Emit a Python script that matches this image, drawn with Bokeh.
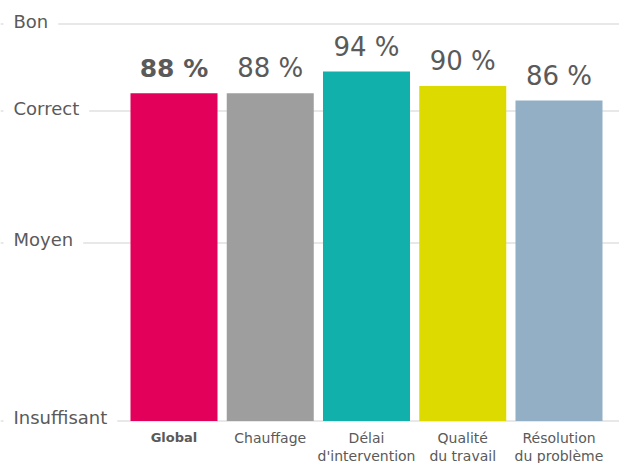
from bokeh.plotting import figure
from bokeh.models import Range1d, Span, ColumnDataSource
from bokeh.core.properties import value
from bokeh.embed import file_html
from bokeh.resources import INLINE

# ---- data ----
CATEGORIES = ["Global", "Chauffage", "Délai\nd'intervention", "Qualité\ndu travail", "Résolution\ndu problème"]
VALUES = [88, 88, 94, 90, 86]
COLORS = ["#E3005A", "#9E9E9F", "#12B0AA", "#DDDA00", "#92AFC6"]
HIGHLIGHT = "Global"

LEVEL_LABELS = ["Insuffisant", "Moyen", "Correct", "Bon"]
LEVEL_VALUES = [-2.4, 46.7, 83.1, 107.1]

FONT = "DejaVu Sans"
TEXT_COLOR = "#5a5a5a"

x_idx = list(range(len(CATEGORIES)))
is_hl = [c == HIGHLIGHT for c in CATEGORIES]

src = ColumnDataSource(dict(
    x=x_idx,
    top=VALUES,
    color=COLORS,
    vlabel=[f"{v} %" for v in VALUES],
    cat=CATEGORIES,
    style=["bold" if h else "normal" for h in is_hl],
    vsize=["25px" if h else "26px" for h in is_hl],
    csize=["13px" if h else "14px" for h in is_hl],
))

p = figure(width=619, height=463, output_backend="svg", toolbar_location=None,
           x_range=Range1d(-1.8026, 4.6286), y_range=Range1d(-14.14, 113.59),
           min_border=0, x_axis_location=None, y_axis_location=None)
p.outline_line_color = None
p.xgrid.visible = False
p.ygrid.visible = False
p.background_fill_color = "white"
p.border_fill_color = "white"

# gridlines for rating levels
for lv in LEVEL_VALUES:
    p.add_layout(Span(location=lv, dimension="width", line_color="#e8e8e8",
                      line_width=2, level="underlay"))

# bars
p.vbar(x="x", top="top", bottom=LEVEL_VALUES[0], width=0.904, color="color",
       line_color=None, source=src)

# value labels
p.text(x="x", y="top", text="vlabel", source=src, text_align="center",
       text_baseline="alphabetic", y_offset=-25, text_font=value(FONT),
       text_font_size="vsize", text_font_style="style", text_color=TEXT_COLOR)

# category labels
p.text(x="x", y=LEVEL_VALUES[0], text="cat", source=src, text_align="center",
       text_baseline="top", y_offset=9, text_line_height=1.1,
       text_font=value(FONT), text_font_size="csize", text_font_style="style",
       text_color=TEXT_COLOR)

# level labels
lsrc = ColumnDataSource(dict(x=[p.x_range.start] * len(LEVEL_LABELS),
                             y=LEVEL_VALUES, t=LEVEL_LABELS))
p.text(x="x", y="y", text="t", source=lsrc, text_align="left",
       text_baseline="middle", x_offset=3, y_offset=-3, text_font=value(FONT),
       text_font_size="18px", text_color=TEXT_COLOR,
       background_fill_color="white", padding=10)

open("out.html", "w").write(file_html(p, INLINE))
